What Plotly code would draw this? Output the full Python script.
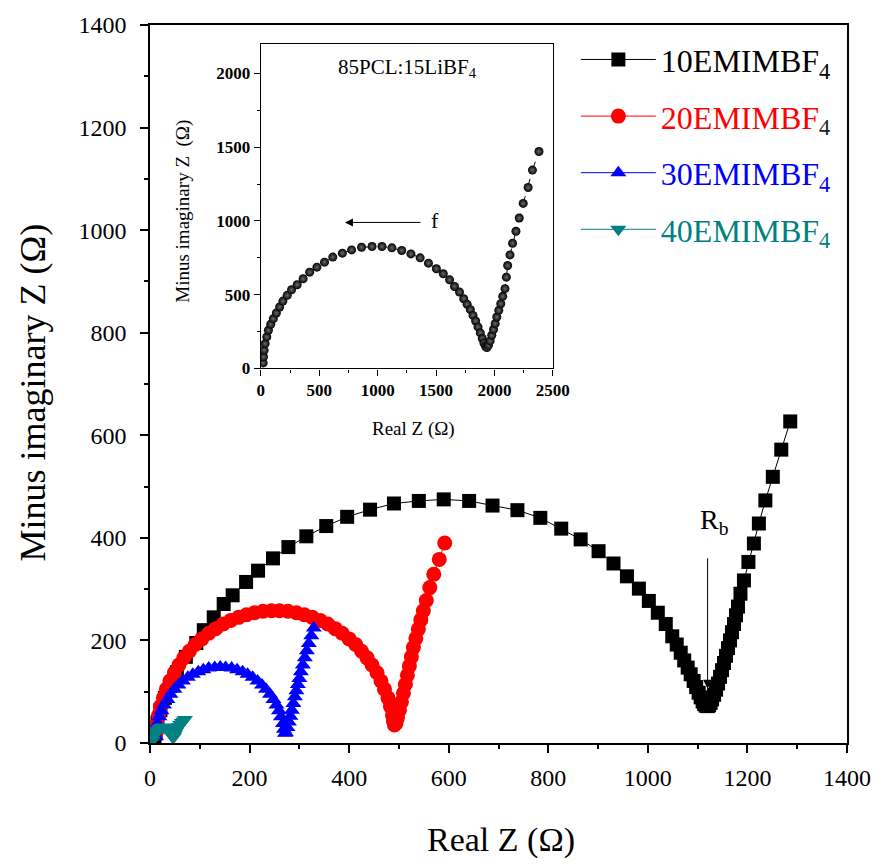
import plotly.graph_objects as go

FONT = "Liberation Serif"

# ---------------- data ----------------
black_x = [9, 11, 15, 21, 30, 41, 54, 72, 93, 108, 128, 148, 166, 193, 217, 247, 278, 314, 354, 396,
           442, 490, 540, 590, 641, 688, 738, 784, 826, 865, 901, 931, 958, 982, 1002, 1020, 1036, 1049,
           1058, 1066, 1073, 1080, 1086, 1092, 1097, 1102, 1106, 1110, 1113, 1116, 1119, 1121, 1123, 1126,
           1129, 1133, 1137, 1141, 1145, 1149, 1153, 1157, 1161, 1165, 1169, 1173, 1177, 1181, 1186, 1193,
           1202, 1213, 1223, 1236, 1251, 1268, 1286]
black_y = [3, 18, 40, 64, 88, 111, 138, 168, 195, 220, 245, 271, 288, 314, 336, 360, 382, 403, 423, 441,
           455, 467, 472, 475, 472, 463, 454, 439, 418, 397, 374, 350, 325, 301, 277, 254, 232, 208,
           192, 176, 161, 147, 134, 121, 109, 98, 89, 81, 76, 73, 72, 72, 74, 78,
           85, 94, 104, 116, 129, 142, 156, 170, 185, 200, 216, 232, 249, 266, 291, 317,
           353, 389, 428, 473, 519, 572, 627]

red_x = [12, 14, 17, 21, 27, 33, 40, 49, 58, 68, 79, 91, 104, 118, 132, 147, 162, 178, 194, 210,
         227, 244, 260, 277, 294, 310, 326, 342, 357, 372, 386, 400, 413, 425, 436, 446, 456, 464, 471,
         478, 483, 487, 489, 491, 494, 497, 501, 505, 509, 513, 517, 521, 525, 529, 534, 539, 544, 549,
         555, 562, 570, 581, 592]
red_y = [18, 36, 54, 71, 88, 105, 121, 137, 152, 166, 179, 192, 203, 214, 223, 232, 239, 245, 250, 254,
         257, 258, 258, 257, 254, 250, 245, 239, 232, 223, 214, 203, 192, 179, 166, 152, 137, 121, 105,
         88, 71, 54, 42, 35, 38, 49, 64, 80, 97, 114, 132, 150, 168, 186, 204, 222, 240, 258,
         278, 303, 329, 358, 390]

blue_x = [12, 13, 15, 19, 23, 28, 35, 41, 49, 57, 66, 76, 86, 97, 107, 118, 130, 141, 152, 164,
          175, 186, 196, 206, 216, 225, 233, 241, 248, 254, 259, 263, 267, 269, 271, 273, 276, 279,
          282, 285, 288, 291, 294, 297, 300, 303, 307, 311, 315, 319, 324, 329]
blue_y = [13, 26, 38, 51, 63, 74, 85, 95, 105, 113, 121, 128, 134, 139, 143, 146, 147, 148, 147, 146,
          143, 139, 134, 128, 121, 113, 105, 95, 85, 74, 63, 51, 38, 27, 19, 20, 30, 41,
          52, 64, 77, 90, 102, 114, 126, 139, 152, 166, 180, 194, 209, 224]

teal_x = [5, 7, 10, 14, 18, 22, 26, 30, 34, 38, 41, 44, 46, 48, 50, 52, 55, 58, 61, 64, 67, 70]
teal_y = [5, 12, 18, 24, 28, 30, 31, 30, 28, 24, 19, 14, 11, 12, 17, 22, 27, 32, 36, 40, 43, 46]

inset_x = [20, 23, 28, 37, 51, 65, 85, 107, 133, 161, 189, 226, 263, 311, 362, 418, 480, 545, 616, 698,
           777, 862, 952, 1037, 1122, 1206, 1285, 1364, 1435, 1503, 1562, 1616, 1658, 1701, 1737, 1766,
           1794, 1816, 1839, 1859, 1879, 1896, 1910, 1924, 1935, 1949, 1963, 1977, 1992, 2006, 2020,
           2037, 2054, 2071, 2090, 2102, 2113, 2133, 2155, 2184, 2212, 2246, 2288, 2325, 2381]
inset_y = [38, 79, 124, 169, 214, 259, 300, 338, 376, 417, 457, 496, 534, 568, 608, 653, 687, 721, 755, 782,
           804, 822, 827, 827, 818, 800, 777, 750, 714, 676, 642, 601, 556, 518, 473, 435,
           399, 360, 322, 282, 241, 203, 173, 151, 142, 158, 187, 225, 264, 304, 349,
           394, 439, 489, 541, 619, 698, 770, 849, 930, 1020, 1119, 1227, 1345, 1471]

names = ["10EMIMBF", "20EMIMBF", "30EMIMBF", "40EMIMBF"]
colors = ["#000000", "#FF0000", "#0000FF", "#008080"]
sub_colors = ["#000000", "#222222", "#0000FF", "#008080"]
symbols = ["square", "circle", "triangle-up", "triangle-down"]
sizes = [14, 15, 14, 14]
series = [(black_x, black_y), (red_x, red_y), (blue_x, blue_y), (teal_x, teal_y)]

fig = go.Figure()
for (xs, ys), nm, c, sc, sym, sz in zip(series, names, colors, sub_colors, symbols, sizes):
    label = f"<span style='color:{c}'>{nm}</span><span style='color:{sc}'><sub>4</sub></span>"
    fig.add_trace(go.Scatter(
        x=xs, y=ys, mode="lines+markers", name=label, legendgroup=nm,
        line=dict(color=c, width=1),
        marker=dict(symbol=sym, size=sz, color=c, line=dict(width=0)),
        xaxis="x", yaxis="y"))

fig.add_trace(go.Scatter(
    x=inset_x, y=inset_y, mode="lines+markers", showlegend=False,
    line=dict(color="#000000", width=1, dash="dash"),
    marker=dict(symbol="circle", size=9, color="#000000",
                gradient=dict(type="radial", color="#6a6a6a"), line=dict(width=0)),
    xaxis="x2", yaxis="y2"))

axis_common = dict(showgrid=False, zeroline=False, showline=True, linecolor="black",
                   mirror=True, ticks="outside", tickcolor="black")

fig.update_layout(
    width=883, height=865,
    margin=dict(l=150, r=29, t=24, b=122),
    paper_bgcolor="white", plot_bgcolor="white",
    font=dict(family=FONT, color="black"),
    xaxis=dict(**axis_common, range=[0, 1400], dtick=200, tick0=0, ticklen=8, linewidth=1.5, tickwidth=1.5,
               tickfont=dict(size=24, family=FONT), ticklabelstandoff=4,
               minor=dict(dtick=100, ticks="outside", ticklen=4, tickcolor="black", tickwidth=1.5),
               domain=[0, 1]),
    yaxis=dict(**axis_common, range=[0, 1400], dtick=200, tick0=0, ticklen=8, linewidth=1.5, tickwidth=1.5,
               tickfont=dict(size=24, family=FONT), ticklabelstandoff=9,
               minor=dict(dtick=100, ticks="outside", ticklen=4, tickcolor="black", tickwidth=1.5),
               domain=[0, 1]),
    xaxis2=dict(**axis_common, range=[0, 2500], dtick=500, tick0=0, ticklen=6, linewidth=1.2, tickwidth=1.2,
                tickfont=dict(size=17, family=FONT, weight="bold"),
                minor=dict(dtick=250, ticks="outside", ticklen=3, tickcolor="black", tickwidth=1.2),
                domain=[0.159, 0.578], anchor="y2"),
    yaxis2=dict(**axis_common, range=[0, 2200], dtick=500, tick0=0, ticklen=6, linewidth=1.2, tickwidth=1.2,
                tickfont=dict(size=17, family=FONT, weight="bold"),
                minor=dict(dtick=250, ticks="outside", ticklen=3, tickcolor="black", tickwidth=1.2),
                domain=[0.5216, 0.9736], anchor="x2"),
    legend=dict(x=0.611, y=0.99, xanchor="left", yanchor="top",
                font=dict(size=32, family=FONT, color="black"),
                bgcolor="rgba(0,0,0,0)", borderwidth=0, tracegroupgap=12, itemwidth=75),
    showlegend=True,
)

annotations = [
    dict(text="Minus imaginary Z (\u03a9)", xref="paper", yref="paper", x=-0.168, y=0.488,
         textangle=-90, showarrow=False, font=dict(size=36, family=FONT), xanchor="center", yanchor="middle"),
    dict(text="Real Z (\u03a9)", xref="paper", yref="paper", x=0.504, y=-0.135,
         showarrow=False, font=dict(size=34, family=FONT), xanchor="center", yanchor="middle"),
    dict(text="Real Z (\u03a9)", xref="paper", yref="paper", x=0.3775, y=0.438,
         showarrow=False, font=dict(size=19, family=FONT), xanchor="center", yanchor="middle"),
    dict(text="Minus imaginary Z  (\u03a9)", xref="paper", yref="paper", x=0.047, y=0.741,
         textangle=-90, showarrow=False, font=dict(size=19, family=FONT), xanchor="center", yanchor="middle"),
    dict(text="85PCL:15LiBF<sub>4</sub>", xref="x2", yref="y2", x=1254, y=2034,
         showarrow=False, font=dict(size=21, family=FONT), xanchor="center", yanchor="middle"),
    dict(text="", xref="x2", yref="y2", x=720, y=990, axref="x2", ayref="y2", ax=1380, ay=990,
         showarrow=True, arrowhead=2, arrowsize=1.6, arrowwidth=1, arrowcolor="black"),
    dict(text="f", xref="x2", yref="y2", x=1490, y=1000,
         showarrow=False, font=dict(size=22, family=FONT), xanchor="center", yanchor="middle"),
    dict(text="R<sub>b</sub>", xref="x", yref="y", x=1133, y=431,
         showarrow=False, font=dict(size=28, family=FONT), xanchor="center", yanchor="middle"),
    dict(text="", xref="x", yref="y", x=1120, y=106, axref="x", ayref="y", ax=1120, ay=363,
         showarrow=True, arrowhead=2, arrowsize=1.8, arrowwidth=1, arrowcolor="black"),
]
fig.update_layout(annotations=annotations)

fig.write_html("out.html")
